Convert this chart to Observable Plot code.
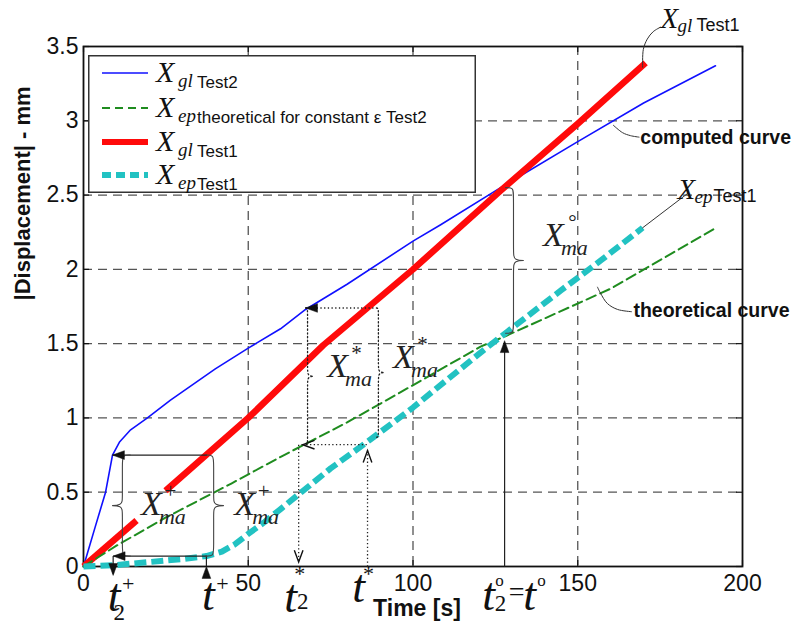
<!DOCTYPE html>
<html><head><meta charset="utf-8">
<script src="https://cdn.jsdelivr.net/npm/d3@7"></script>
<script src="https://cdn.jsdelivr.net/npm/@observablehq/plot@0.6"></script>
<style>
body{margin:0;background:#fff}
#wrap{position:relative;width:794px;height:629px;overflow:hidden}
#wrap svg{display:block}
</style>
</head><body><div id="wrap"></div>
<script>
// ---------- data (time s, |displacement| mm) ----------
const glTest2T = [0, 3.6, 6.7, 8.8, 11, 14.3, 19.4, 26.4, 40, 50, 59.8, 67.4, 80, 100, 108.4, 126.6, 150, 170, 191.8];
const glTest2Y = [0, 0.27, 0.5, 0.75, 0.84, 0.92, 1.0, 1.12, 1.33, 1.47, 1.6, 1.73, 1.9, 2.19, 2.3, 2.55, 2.86, 3.12, 3.37];
const epTheoT = [0, 10, 25, 45, 60, 80, 96, 120.5, 128, 160, 192];
const epTheoY = [0, 0.14, 0.33, 0.56, 0.74, 0.97, 1.17, 1.48, 1.55, 1.87, 2.28];
const glTest1T_a = [0, 16.1];
const glTest1Y_a = [0, 0.31];
const glTest1T_b = [24.9, 50, 72.8, 100, 126.6, 150, 170.6];
const glTest1Y_b = [0.51, 1.0, 1.49, 2.0, 2.53, 2.98, 3.39];
const epTest1T = [0, 10, 20, 30, 37.3, 42, 46, 50, 55, 60, 65, 75, 86.2, 100, 120.5, 128.6, 145, 157, 169.7];
const epTest1Y = [0, 0.01, 0.03, 0.05, 0.07, 0.1, 0.15, 0.22, 0.3, 0.39, 0.48, 0.66, 0.84, 1.07, 1.44, 1.58, 1.86, 2.06, 2.28];

const xTicks = [0, 50, 100, 150, 200];
const xTickLabels = ["0", "50", "100", "150", "200"];
const yTicks = [0, 0.5, 1, 1.5, 2, 2.5, 3, 3.5];
const yTickLabels = ["0", "0.5", "1", "1.5", "2", "2.5", "3", "3.5"];
const xGrid = [50, 100, 150];
const yGrid = [0.5, 1, 1.5, 2, 2.5, 3];

// annotation geometry (data units)
const solidLinks = [
  {x1: 8.8, y1: 0.75, x2: 37.5, y2: 0.75},
  {x1: 9.0, y1: 0.07, x2: 37.5, y2: 0.07},
  {x1: 37.3, y1: 0, x2: 37.3, y2: 0.07},
  {x1: 9.0, y1: 0.07, x2: 9.0, y2: -0.05},
  {x1: 127.8, y1: 0, x2: 127.8, y2: 1.5}
];
const dottedLinks = [
  {x1: 67.4, y1: 1.74, x2: 88.5, y2: 1.74},
  {x1: 66.5, y1: 0.82, x2: 86.2, y2: 0.82},
  {x1: 65.3, y1: 0.82, x2: 65.3, y2: 0.03},
  {x1: 86.2, y1: 0, x2: 86.2, y2: 0.78}
];
const solidBraces = [
  {x: 11.8, top: 0.75, bottom: 0.07, dir: -1},
  {x: 39.5, top: 0.75, bottom: 0.07, dir: 1},
  {x: 130.5, top: 2.55, bottom: 1.57, dir: 1}
];
const dottedBraces = [
  {x: 68.0, top: 1.74, bottom: 0.82, dir: 1},
  {x: 89.5, top: 1.74, bottom: 0.87, dir: 1}
];
const filledHeads = [
  {x: 8.8, y: 0.75, dir: "left"},
  {x: 9.0, y: 0.07, dir: "left"},
  {x: 37.3, y: 0.0, dir: "up"},
  {x: 9.0, y: -0.06, dir: "down"},
  {x: 127.8, y: 1.52, dir: "up"},
  {x: 67.4, y: 1.74, dir: "left"}
];
const openHeads = [
  {x: 66.5, y: 0.82, dir: "left"},
  {x: 65.3, y: 0.03, dir: "down"},
  {x: 86.2, y: 0.78, dir: "up"}
];
const leaders = [
  [{x: 169.7, y: 3.36}, {x: 169.9, y: 3.48}, {x: 171.1, y: 3.55}, {x: 172.9, y: 3.6}, {x: 175.1, y: 3.63}],
  [{x: 160.8, y: 2.97}, {x: 163.6, y: 2.92}, {x: 166.0, y: 2.90}, {x: 168.6, y: 2.89}],
  [{x: 169.7, y: 2.28}, {x: 183.3, y: 2.51}],
  [{x: 156.0, y: 1.88}, {x: 156.9, y: 1.84}, {x: 159.0, y: 1.77}, {x: 162.1, y: 1.73}, {x: 166.3, y: 1.715}]
];
const mathLabels = [
  {x: 20.6, y: 0.42, base: "X", sup: "+", sub: "ma"},
  {x: 48.9, y: 0.42, base: "X", sup: "+", sub: "ma"},
  {x: 77.1, y: 1.35, base: "X", sup: "*", sub: "ma"},
  {x: 97.1, y: 1.41, base: "X", sup: "*", sub: "ma"},
  {x: 142.6, y: 2.23, base: "X", sup: "\u00b0", sub: "ma"}
];
// special time instants marked under the axis
const timeInstants = [9.0, 37.3, 65.3, 86.2, 127.8];
const timeInstantParts = [
  [["t", "t"], ["+", "sup"], ["2", "sub"]],
  [["t", "t"], ["+", "sup"]],
  [["t", "t"], ["*", "sup"], ["2", "sub"]],
  [["t", "t"], ["*", "sup"]],
  [["t", "t"], ["o", "deg"], ["2", "sub"], ["=", "eq"], ["t", "t"], ["o", "deg"]]
];
const curveNames = [
  {x: 169.0, y: 2.883, text: "computed curve"},
  {x: 166.9, y: 1.719, text: "theoretical curve"}
];
const seriesTags = [
  {x: 175.1, y: 3.684, sub: "gl", tag: "Test1"},
  {x: 180.3, y: 2.534, sub: "ep", tag: "Test1"}
];

// ---------- layout of time-instant label pieces (px offsets from the tick) ----------
const timeOffsets = [
  [[1, 30], [15, 17], [6, 46]],
  [[2, 29], [16, 17]],
  [[-8, 31], [1, 7], [4, 35]],
  [[-9, 21], [1, 7]],
  [[-16, 29], [-5, 14], [-4, 37], [12, 26], [25, 29], [37, 14]]
];
const pieceStyle = {
  t: {fontSize: 46, fontStyle: "italic"},
  sup: {fontSize: 22},
  sub: {fontSize: 23},
  deg: {fontSize: 17},
  eq: {fontSize: 28}
};

// ---------- helpers ----------
const pts = (t, y) => t.map((d, i) => ({t: d, y: y[i]}));
const serif = "'Liberation Serif','Times New Roman',serif";
const sans = "'Liberation Sans',Arial,sans-serif";
const ink = "#111";

function headSym(dir, filled) {
  const u = {up: [0, -1], down: [0, 1], left: [-1, 0], right: [1, 0]}[dir];
  return {draw(ctx, size) {
    const r = Math.sqrt(size / Math.PI);
    const L = 1.7 * r, w = 0.62 * r;
    const bx = -u[0] * L, by = -u[1] * L, px = -u[1] * w, py = u[0] * w;
    ctx.moveTo(bx + px, by + py); ctx.lineTo(0, 0); ctx.lineTo(bx - px, by - py);
    if (filled) ctx.closePath();
  }};
}
function bracePts(b, tip, bump, curl) {
  const m = (b.top + b.bottom) / 2, x = b.x, d = b.dir;
  return [[x - d * tip, b.top], [x, b.top], [x, b.top - curl], [x, m + curl], [x, m],
          [x + d * bump, m], [x, m], [x, m - curl], [x, b.bottom + curl], [x, b.bottom], [x - d * tip, b.bottom]]
    .map(([px, py]) => ({x: px, y: py}));
}

const marks = [];
// grid
marks.push(Plot.ruleX(xGrid, {stroke: "#555", strokeWidth: 1.3, strokeDasharray: "9,6"}));
marks.push(Plot.ruleY(yGrid, {stroke: "#555", strokeWidth: 1.3, strokeDasharray: "9,6"}));
// inward ticks
const fh = 520, fw = 659;
marks.push(Plot.ruleX(xTicks, {insetTop: fh - 6, stroke: ink, strokeWidth: 1.2}));
marks.push(Plot.ruleX(xTicks, {insetBottom: fh - 6, stroke: ink, strokeWidth: 1.2}));
marks.push(Plot.ruleY(yTicks, {insetRight: fw - 6, stroke: ink, strokeWidth: 1.2}));
marks.push(Plot.ruleY(yTicks, {insetLeft: fw - 6, stroke: ink, strokeWidth: 1.2}));
marks.push(Plot.frame({stroke: ink, strokeWidth: 1.8}));

// series
marks.push(Plot.line(pts(glTest2T, glTest2Y), {x: "t", y: "y", stroke: "#1010ff", strokeWidth: 1.6}));
marks.push(Plot.line(pts(glTest1T_a, glTest1Y_a), {x: "t", y: "y", stroke: "#ff0a0a", strokeWidth: 6.5, strokeLinecap: "butt"}));
marks.push(Plot.line(pts(glTest1T_b, glTest1Y_b), {x: "t", y: "y", stroke: "#ff0a0a", strokeWidth: 6.5, strokeLinecap: "butt"}));
marks.push(Plot.line(pts(epTheoT, epTheoY), {x: "t", y: "y", stroke: "#1f8c1f", strokeWidth: 2, strokeDasharray: "10,5"}));
marks.push(Plot.line(pts(epTest1T, epTest1Y), {x: "t", y: "y", stroke: "#22c2c2", strokeWidth: 6, strokeDasharray: "12,5", strokeLinecap: "butt"}));

// annotation lines
marks.push(Plot.link(solidLinks, {x1: "x1", y1: "y1", x2: "x2", y2: "y2", stroke: "#222", strokeWidth: 1.2}));
marks.push(Plot.link(dottedLinks, {x1: "x1", y1: "y1", x2: "x2", y2: "y2", stroke: "#222", strokeWidth: 1.3, strokeDasharray: "1.3,2.4"}));
solidBraces.forEach(b => marks.push(Plot.line(bracePts(b, 2.4, 4.5, 0.05), {x: "x", y: "y", curve: "basis", stroke: "#444", strokeWidth: 1.1})));
dottedBraces.forEach(b => marks.push(Plot.line(bracePts(b, 0.6, 2.6, 0.05), {x: "x", y: "y", curve: "basis", stroke: "#222", strokeWidth: 1.3, strokeDasharray: "1.3,2.4"})));
["up", "down", "left", "right"].forEach(dir => {
  marks.push(Plot.dot(filledHeads.filter(d => d.dir === dir), {x: "x", y: "y", r: 7, symbol: headSym(dir, true), fill: ink, stroke: ink, strokeWidth: 0.5}));
  marks.push(Plot.dot(openHeads.filter(d => d.dir === dir), {x: "x", y: "y", r: 7, symbol: headSym(dir, false), fill: "none", stroke: ink, strokeWidth: 1.4}));
});
leaders.forEach(l => marks.push(Plot.line(l, {x: "x", y: "y", curve: "catmull-rom", stroke: "#333", strokeWidth: 1})));

// math labels inside the plot
marks.push(Plot.text(mathLabels, {x: "x", y: "y", text: "base", fontFamily: serif, fontStyle: "italic", fontSize: 34, fill: "#222"}));
marks.push(Plot.text(mathLabels, {x: "x", y: "y", text: "sup", dx: 19, dy: -13, fontFamily: serif, fontSize: 21, fill: "#222"}));
marks.push(Plot.text(mathLabels, {x: "x", y: "y", text: "sub", dx: 21, dy: 13, fontFamily: serif, fontStyle: "italic", fontSize: 22, fill: "#222"}));

// outside labels
marks.push(Plot.text(curveNames, {x: "x", y: "y", text: "text", textAnchor: "start", fontFamily: sans, fontWeight: "bold", fontSize: 19.5, fill: "#111"}));
marks.push(Plot.text(seriesTags, {x: "x", y: "y", text: () => "X", textAnchor: "start", fontFamily: serif, fontStyle: "italic", fontSize: 29, fill: "#111"}));
marks.push(Plot.text(seriesTags, {x: "x", y: "y", text: "sub", textAnchor: "start", dx: 17, dy: 7, fontFamily: serif, fontStyle: "italic", fontSize: 19, fill: "#111"}));
marks.push(Plot.text(seriesTags, {x: "x", y: "y", text: "tag", textAnchor: "start", dx: 36, dy: 6, fontFamily: sans, fontSize: 18, fill: "#111"}));

// axis tick labels
marks.push(Plot.text(xTicks, {x: d => d, y: 0, text: (d, i) => xTickLabels[i], dy: 17, fontFamily: sans, fontSize: 23, fill: "#111"}));
marks.push(Plot.text(yTicks, {x: 0, y: d => d, text: (d, i) => yTickLabels[i], textAnchor: "end", dx: -5, fontFamily: sans, fontSize: 23, fill: "#111"}));
// special time labels (one text mark per piece)
timeInstants.forEach((t0, i) => {
  timeInstantParts[i].forEach(([txt, kind], j) => {
    const [dx, dy] = timeOffsets[i][j];
    marks.push(Plot.text([t0], {x: d => d, y: 0, text: () => txt, dx, dy, fontFamily: serif, fill: "#111", ...pieceStyle[kind]}));
  });
});

// axis titles
marks.push(Plot.text(["Time [s]"], {frameAnchor: "bottom", dx: 4, dy: 49, fontFamily: sans, fontWeight: "bold", fontSize: 23, fill: "#111"}));
marks.push(Plot.text(["|Displacement| - mm"], {frameAnchor: "left", dx: -61, dy: -6, rotate: -90, fontFamily: sans, fontWeight: "bold", fontSize: 22, fill: "#111"}));

const chart = Plot.plot({
  width: 794, height: 629,
  marginLeft: 83, marginRight: 52, marginTop: 46, marginBottom: 63,
  x: {domain: [0, 200], axis: null},
  y: {domain: [0, 3.5], axis: null},
  style: {fontFamily: sans, background: "#fff", overflow: "visible"},
  marks
});
const wrap = document.getElementById("wrap");
wrap.appendChild(chart);

// legend (inside the axes, top-left)
const rows = [
  {y: 73, sub: "gl", label: "Test2", stroke: "#1010ff", w: 1.6, dash: ""},
  {y: 108, sub: "ep", label: "theoretical for constant \u03b5 Test2", stroke: "#1f8c1f", w: 2, dash: "8,5"},
  {y: 142, sub: "gl", label: "Test1", stroke: "#ff0a0a", w: 6, dash: ""},
  {y: 175, sub: "ep", label: "Test1", stroke: "#22c2c2", w: 6, dash: "9,5"}
];
const ns = "http://www.w3.org/2000/svg";
const lg = document.createElementNS(ns, "svg");
lg.setAttribute("width", 388); lg.setAttribute("height", 138);
lg.setAttribute("viewBox", "88 55 388 138");
lg.style.cssText = "position:absolute;left:88px;top:55px";
let html = `<rect x="88.75" y="55.75" width="386.5" height="136.5" fill="#fff" stroke="#333" stroke-width="1.5"/>`;
rows.forEach(r => {
  html += `<line x1="102" x2="148" y1="${r.y}" y2="${r.y}" stroke="${r.stroke}" stroke-width="${r.w}" ${r.dash ? `stroke-dasharray="${r.dash}"` : ""}/>`;
  html += `<text x="156" y="${r.y + 9}" font-family="${serif}" font-style="italic" font-size="30" fill="#111">X</text>`;
  html += `<text x="178" y="${r.y + 14}" font-family="${serif}" font-style="italic" font-size="19" fill="#111">${r.sub}</text>`;
  html += `<text x="197" y="${r.y + 15}" font-family="${sans}" font-size="17" fill="#111">${r.label}</text>`;
});
lg.innerHTML = html;
wrap.appendChild(lg);
</script>
</body></html>
